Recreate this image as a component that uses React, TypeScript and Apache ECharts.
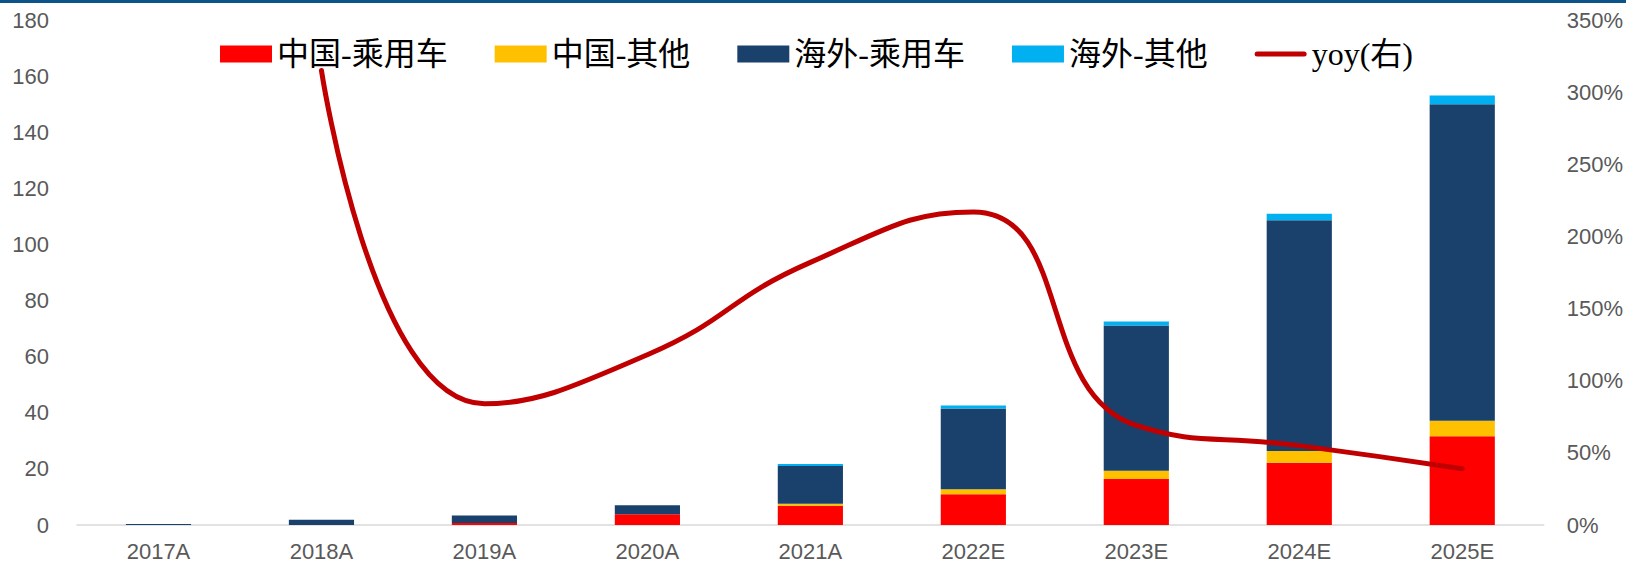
import React, { useEffect, useRef } from "react";
import * as echarts from "echarts";

const categories = ["2017A", "2018A", "2019A", "2020A", "2021A", "2022E", "2023E", "2024E", "2025E"];
const chinaPassenger = [0, 0, 0.7, 3.8, 6.9, 11.0, 16.4, 22.2, 31.6];
const chinaOther = [0, 0, 0, 0, 0.7, 1.7, 2.9, 4.2, 5.6];
const overseasPassenger = [0.4, 1.9, 2.7, 3.2, 13.4, 28.8, 51.8, 82.2, 112.8];
const overseasOther = [0, 0, 0, 0, 0.7, 1.1, 1.4, 2.3, 3.1];
const yoy = [null, 315, 84, 118, 182, 217, 69, 55, 39];

const leftTicks = { min: 0, max: 180, interval: 20 };
const rightTicks = { min: 0, max: 350, interval: 50 };

export default function App() {
  const ref = useRef<HTMLDivElement>(null);
  useEffect(() => {
    if (!ref.current) return;
    const chart = echarts.init(ref.current, undefined, { renderer: "svg" });
    const labelFont = "'Liberation Sans', Arial, sans-serif";
    const legendFont = "'Liberation Serif', 'Noto Sans CJK SC', serif";
    const barBase = {
      type: "bar" as const,
      stack: "total",
      barWidth: "40%",
      yAxisIndex: 0,
    };
    chart.setOption({
      animation: false,
      backgroundColor: "#ffffff",
      graphic: [
        { type: "rect", left: 0, top: 0, shape: { width: 1626, height: 3 }, style: { fill: "#0B5388" } },
      ],
      legend: {
        left: 215,
        top: 32,
        itemWidth: 52,
        itemHeight: 17,
        itemGap: 47,
        textStyle: { fontFamily: legendFont, fontSize: 32, color: "#000000", lineHeight: 34 },
        data: [
          { name: "中国-乘用车", icon: "rect" },
          { name: "中国-其他", icon: "rect" },
          { name: "海外-乘用车", icon: "rect" },
          { name: "海外-其他", icon: "rect" },
          {
            name: "yoy(右)",
            icon: "path://M2.5,0 L49.5,0 A2.5,2.5 0 0 1 49.5,5 L2.5,5 A2.5,2.5 0 0 1 2.5,0 Z",
            itemStyle: { color: "#C00000" },
          },
        ],
      },
      grid: { left: 77, right: 79, top: 20, bottom: 40, containLabel: false },
      xAxis: {
        type: "category",
        data: categories,
        axisTick: { show: false },
        axisLine: { show: true, lineStyle: { color: "#D9D9D9", width: 1.5 } },
        axisLabel: { color: "#595959", fontSize: 22, fontFamily: labelFont, margin: 15 },
      },
      yAxis: [
        {
          type: "value",
          ...leftTicks,
          splitLine: { show: false },
          axisLine: { show: false },
          axisTick: { show: false },
          axisLabel: { color: "#595959", fontSize: 22, fontFamily: labelFont, margin: 28 },
        },
        {
          type: "value",
          ...rightTicks,
          position: "right",
          splitLine: { show: false },
          axisLine: { show: false },
          axisTick: { show: false },
          axisLabel: { color: "#595959", fontSize: 22, fontFamily: labelFont, margin: 23, formatter: "{value}%" },
        },
      ],
      series: [
        { ...barBase, name: "中国-乘用车", data: chinaPassenger, itemStyle: { color: "#FF0000" } },
        { ...barBase, name: "中国-其他", data: chinaOther, itemStyle: { color: "#FFC000" } },
        { ...barBase, name: "海外-乘用车", data: overseasPassenger, itemStyle: { color: "#1A416C" } },
        { ...barBase, name: "海外-其他", data: overseasOther, itemStyle: { color: "#00B0F0" } },
        {
          type: "line",
          name: "yoy(右)",
          yAxisIndex: 1,
          data: yoy,
          smooth: 0.5,
          symbol: "none",
          lineStyle: { color: "#C00000", width: 5, cap: "round", join: "round" },
          itemStyle: { color: "#C00000" },
          z: 5,
        },
      ],
    });
    return () => chart.dispose();
  }, []);
  return (
    <div
      ref={ref}
      style={{ position: "absolute", left: 0, top: 0, width: 1626, height: 565 }}
    />
  );
}
